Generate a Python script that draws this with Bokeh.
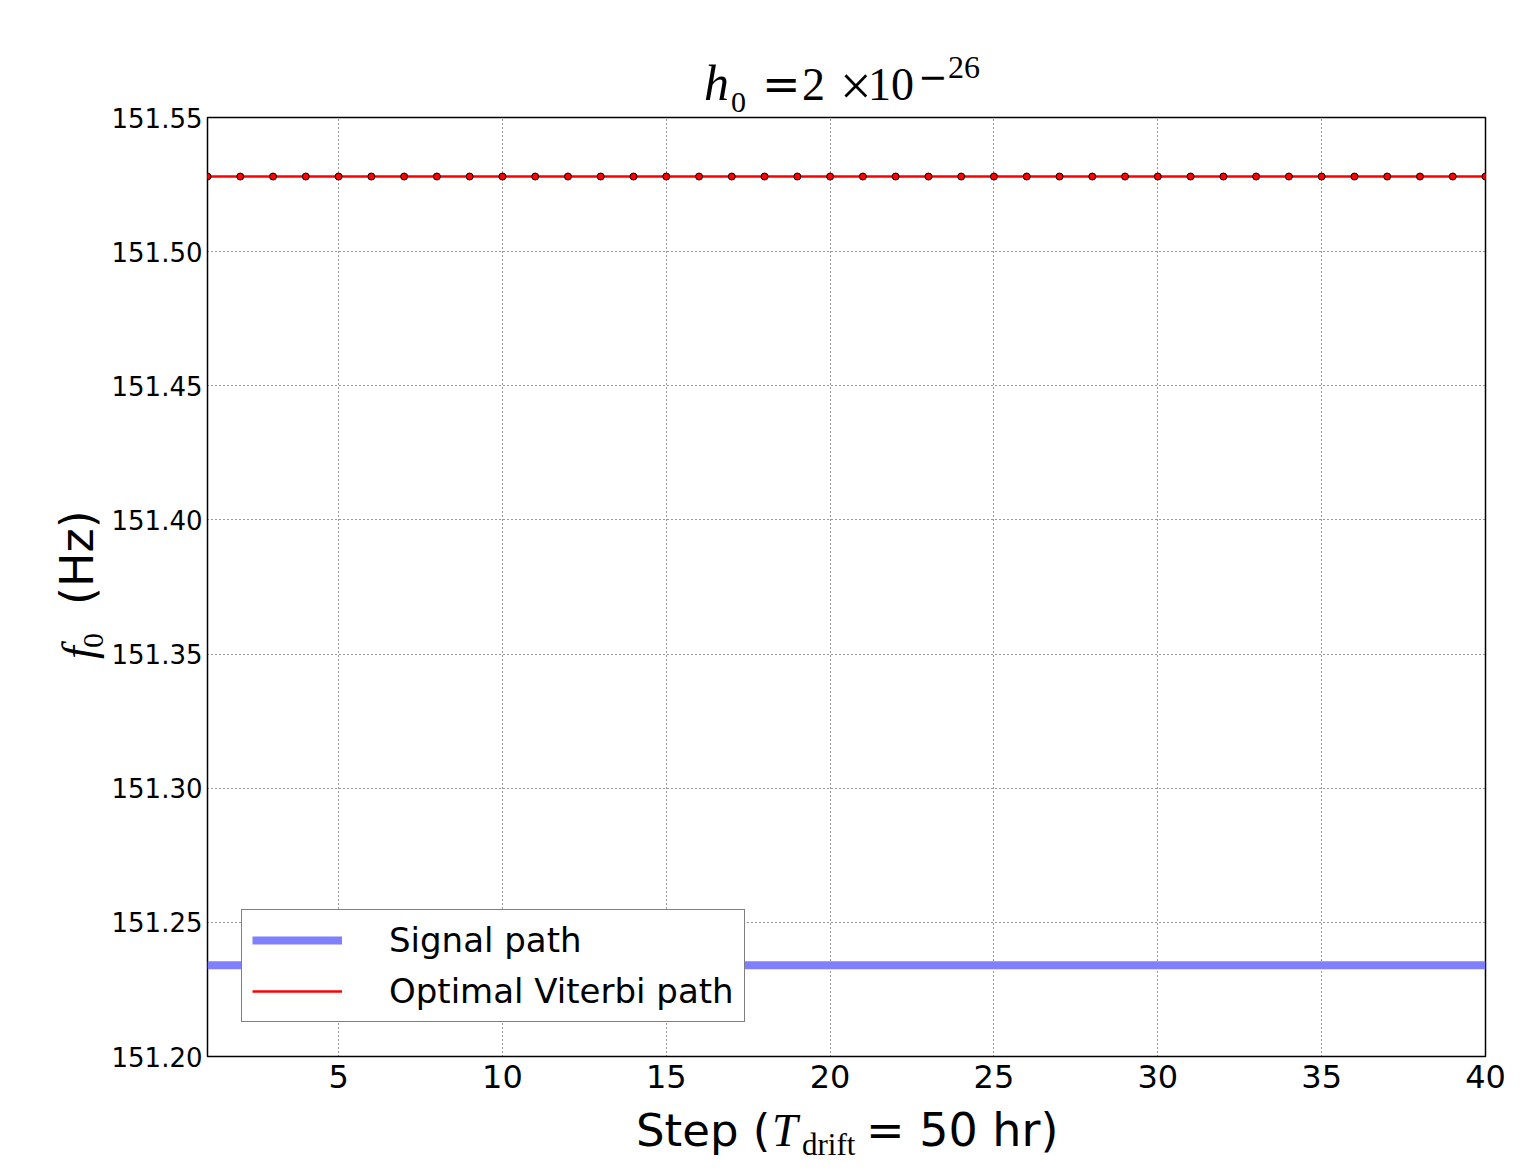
from bokeh.plotting import figure
from bokeh.models import (Range1d, FixedTicker, PrintfTickFormatter,
                          Legend, LegendItem, Div, GridBox)
from bokeh.embed import file_html
from bokeh.resources import INLINE

# ---- data ----
steps = [1, 2, 3, 4, 5, 6, 7, 8, 9, 10, 11, 12, 13, 14, 15, 16, 17, 18, 19, 20,
         21, 22, 23, 24, 25, 26, 27, 28, 29, 30, 31, 32, 33, 34, 35, 36, 37, 38, 39, 40]
signal_f0 = [151.234, 151.234, 151.234, 151.234, 151.234, 151.234, 151.234, 151.234,
             151.234, 151.234, 151.234, 151.234, 151.234, 151.234, 151.234, 151.234,
             151.234, 151.234, 151.234, 151.234, 151.234, 151.234, 151.234, 151.234,
             151.234, 151.234, 151.234, 151.234, 151.234, 151.234, 151.234, 151.234,
             151.234, 151.234, 151.234, 151.234, 151.234, 151.234, 151.234, 151.234]
viterbi_f0 = [151.528, 151.528, 151.528, 151.528, 151.528, 151.528, 151.528, 151.528,
              151.528, 151.528, 151.528, 151.528, 151.528, 151.528, 151.528, 151.528,
              151.528, 151.528, 151.528, 151.528, 151.528, 151.528, 151.528, 151.528,
              151.528, 151.528, 151.528, 151.528, 151.528, 151.528, 151.528, 151.528,
              151.528, 151.528, 151.528, 151.528, 151.528, 151.528, 151.528, 151.528]
x_ticks = [5, 10, 15, 20, 25, 30, 35, 40]
y_ticks = [151.20, 151.25, 151.30, 151.35, 151.40, 151.45, 151.50, 151.55]
legend_labels = ["Signal path", "Optimal Viterbi path"]

W, H = 1520, 1168

p = figure(width=W, height=H, output_backend="svg", toolbar_location=None,
           x_range=Range1d(1, 40), y_range=Range1d(151.20, 151.55),
           min_border_left=207, min_border_right=35,
           min_border_top=117, min_border_bottom=112)
p.background_fill_color = "white"
p.border_fill_color = "white"
p.outline_line_color = "black"
p.outline_line_width = 1.5
p.outline_line_alpha = 1.0

sig = p.line(steps, signal_f0, line_color="#8080ff", line_width=8)
vit = p.line(steps, viterbi_f0, line_color="red", line_width=2.5)
p.scatter(steps, viterbi_f0, size=7, fill_color="red", line_color="black", line_width=1)

# axes
p.xaxis.ticker = FixedTicker(ticks=x_ticks)
p.yaxis.ticker = FixedTicker(ticks=y_ticks)
p.yaxis.formatter = PrintfTickFormatter(format="%.2f")
for ax in (p.xaxis, p.yaxis):
    ax.axis_line_color = None
    ax.major_tick_in = 0
    ax.major_tick_out = 0
    ax.minor_tick_in = 0
    ax.minor_tick_out = 0
    ax.major_label_text_font = "DejaVu Sans"
    ax.major_label_text_color = "black"
p.xaxis.major_label_text_font_size = "32px"
p.yaxis.major_label_text_font_size = "26px"
p.xaxis.major_label_standoff = 8
p.yaxis.major_label_standoff = 5

for g in (p.xgrid, p.ygrid):
    g.grid_line_color = "black"
    g.grid_line_alpha = 0.8
    g.grid_line_dash = "1 3"
    g.grid_line_width = 1

legend = Legend(items=[LegendItem(label=legend_labels[0], renderers=[sig]),
                       LegendItem(label=legend_labels[1], renderers=[vit])],
                location="bottom_left", margin=34, padding=10, spacing=11,
                glyph_width=90, glyph_height=38, label_standoff=47,
                label_text_font="DejaVu Sans", label_text_font_size="34px",
                label_text_color="black",
                border_line_color="black", border_line_width=1.5,
                background_fill_color="white", background_fill_alpha=1.0)
p.add_layout(legend, "center")

# ---- title and axis labels (mixed fonts), overlaid as SVG text ----
def t(x, y, s, font, size, style="normal", rot=False):
    tr = f' transform="rotate(-90 {x} {y})"' if rot else ""
    css = (f"font-family:'{font}';font-size:{size}px;font-style:{style};"
           f"font-weight:normal;fill:black")
    return f'<text x="{x}" y="{y}" style="{css}"{tr}>{s}</text>'

SERIF = "Liberation Serif"
DSERIF = "DejaVu Serif"
SANS = "DejaVu Sans"
parts = [
    # title: h_0 =2 x10^-26
    t(704, 100, "h", SERIF, 50, "italic"),
    t(731, 112, "0", SERIF, 30),
    t(762, 100, "=", DSERIF, 46),
    t(802, 100, "2", SERIF, 46),
    t(840, 105, "\u00d7", SERIF, 56),
    t(868, 100, "10", SERIF, 46),
    t(918, 89, "\u2212", DSERIF, 35),
    t(948, 78, "26", SERIF, 32),
    # x label: Step (T_drift = 50 hr)
    t(636, 1146, "Step (", SANS, 45),
    t(772, 1146, "T", SERIF, 46, "italic"),
    t(802, 1155, "drift", SERIF, 31),
    t(866, 1146, "= 50 hr)", SANS, 46),
    # y label: f_0 (Hz)
    t(94, 659, "f", SERIF, 46, "italic", True),
    t(103, 648, "0", SERIF, 30, "normal", True),
    t(93, 605, "(Hz)", SANS, 46, "normal", True),
]
svg = (f'<svg xmlns="http://www.w3.org/2000/svg" width="{W}" height="{H}" '
       f'style="display:block;overflow:visible">' + "".join(parts) + "</svg>")
overlay = Div(text=svg, width=W, height=H, margin=0,
              styles={"pointer-events": "none"})

layout = GridBox(children=[(p, 0, 0), (overlay, 0, 0)])

open("out.html", "w").write(file_html(layout, INLINE))
